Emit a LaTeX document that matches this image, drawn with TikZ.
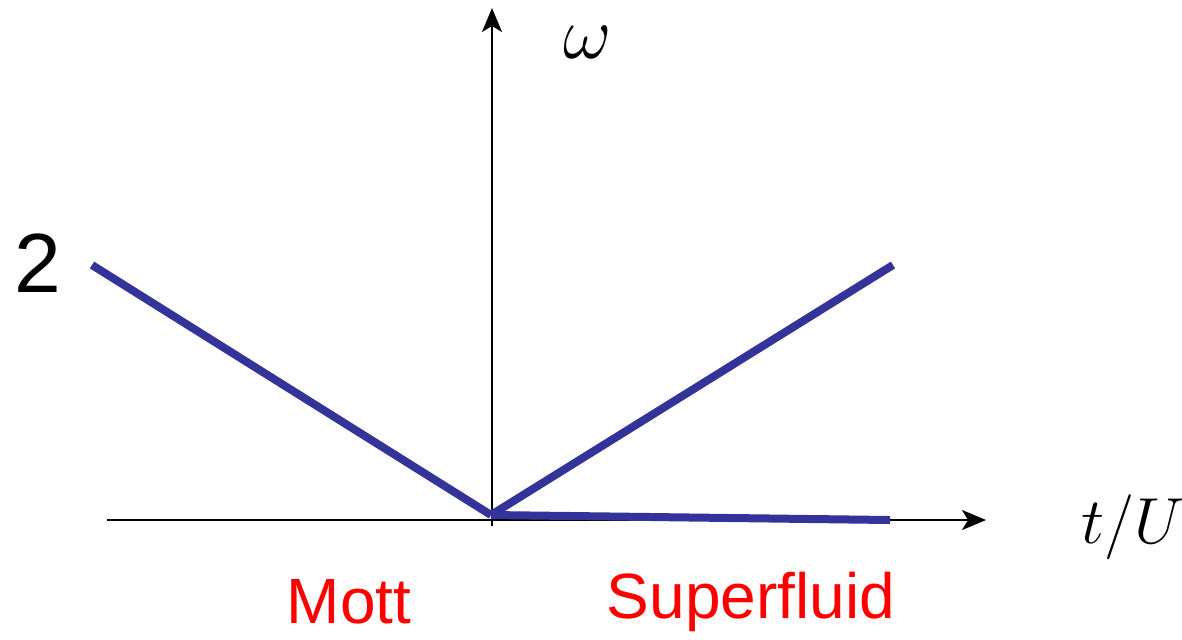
\documentclass[tikz,border=0pt]{standalone}
\usepackage{fontspec}
\setmainfont{Liberation Sans}
\usetikzlibrary{arrows.meta}
\definecolor{lineblue}{RGB}{51,51,153}
\definecolor{labelred}{RGB}{255,0,0}
\tikzset{
  axis/.style={line width=1pt,-{Stealth[length=12pt,width=10pt,inset=3pt]}},
  branch/.style={line width=4pt,lineblue},
  sidelabel/.style={text=labelred,font=\fontsize{32}{34}\selectfont,inner sep=0pt},
  mathlabel/.style={inner sep=0pt,font=\fontsize{20}{22}\selectfont},
}
\begin{document}
\begin{tikzpicture}[x=0.5pt,y=-0.5pt]
\useasboundingbox (0,0) rectangle (1182,639);
% axes
\coordinate (vb) at (492,526);
\coordinate (vt) at (492,8);
\coordinate (hl) at (107,520);
\coordinate (hr) at (986,520);
\draw[axis] (vb) -- (vt);
\draw[axis] (hl) -- (hr);
% branches
\coordinate (o) at (491,515);
\coordinate (l) at (92,265);
\coordinate (r) at (893,265);
\coordinate (f) at (890,520);
\draw[branch] (l) -- (o);
\draw[branch] (o) -- (r);
\draw[branch] (o) -- (f);
% labels
\node[mathlabel,scale=1.8] (om) at (588,42) {$\omega$};
\node[mathlabel,scale=1.57] (tu) at (1133,527) {$t/U$};
\node[inner sep=0pt,font=\fontsize{42}{44}\selectfont] (two) at (38,263) {2};
\node[sidelabel] (mott) at (349,602) {Mott};
\node[sidelabel] (sf) at (751,602) {Superfluid};
\end{tikzpicture}
\end{document}
